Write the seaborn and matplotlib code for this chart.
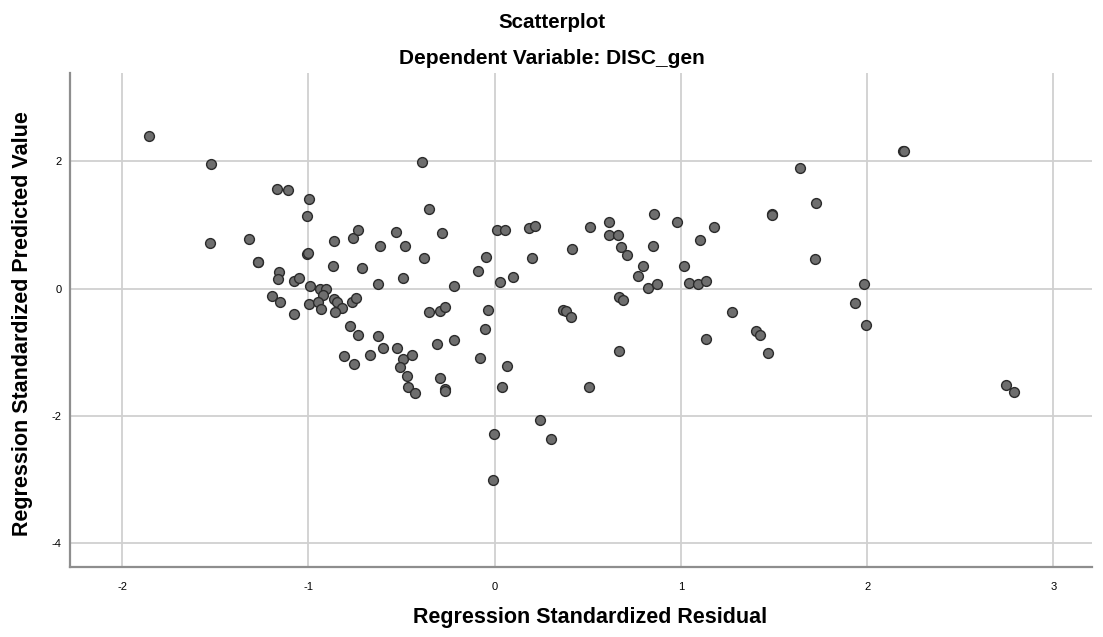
import numpy as np
import pandas as pd
import matplotlib
matplotlib.use("Agg")
import matplotlib.pyplot as plt
import seaborn as sns

# --- Data (standardized residual, standardized predicted) ---
resid = [
    -1.858, -1.523, -1.529, -1.166, -1.107, -0.997, -1.008, -1.319, -1.273, -1.268,
    -1.006, -1.002, -1.160, -1.162, -1.075, -1.053, -0.989, -0.940, -0.906, -0.919,
    -0.862, -0.869, -0.758, -0.736, -0.713, -0.616, -0.629, -0.530, -0.482, -0.493,
    -0.389, -0.355, -0.382, -0.283, -0.217, -0.089, -0.046, 0.015, 0.058, 0.026,
    -1.193, -1.151, -1.078, -0.999, -0.946, -0.931, -0.865, -0.844, -0.819, -0.856,
    -0.767, -0.743, -0.779, -0.736, -0.627, -0.600, -0.808, -0.756, -0.668, -0.525,
    -0.491, -0.444, -0.506, -0.470, -0.466, -0.428, -0.350, -0.291, -0.267, -0.309,
    -0.219, -0.296, -0.266, -0.264, -0.037, -0.051, -0.078, -0.001, -0.008,
    2.193, 2.198, 1.641, 1.726, 1.488, 1.490, 1.722, 1.981, 1.932, 1.276,
    1.179, 1.104, 0.977, 1.015, 1.041, 1.092, 1.136, 0.856, 0.848, 0.799,
    0.767, 0.825, 0.871, 0.514, 0.612, 0.616, 0.663, 0.676, 0.712, 0.417,
    0.665, 0.690, 0.187, 0.215, 0.198, 0.100, 0.368, 0.385, 0.410,
    0.064, 0.041, 0.243, 0.300, 0.506, 0.665, 1.134, 1.404, 1.425, 1.467,
    1.994, 2.743, 2.787,
]
predicted = [
    2.400, 1.956, 0.723, 1.572, 1.557, 1.405, 1.143, 0.777, 0.425, 0.420,
    0.546, 0.552, 0.263, 0.153, 0.116, 0.163, 0.042, -0.010, -0.010, -0.099,
    0.750, 0.362, 0.797, 0.928, 0.325, 0.676, 0.074, 0.887, 0.671, 0.168,
    1.997, 1.248, 0.483, 0.871, 0.047, 0.278, 0.498, 0.923, 0.923, 0.110,
    -0.110, -0.214, -0.393, -0.241, -0.214, -0.319, -0.167, -0.214, -0.299, -0.371,
    -0.214, -0.151, -0.591, -0.728, -0.739, -0.932, -1.063, -1.189, -1.053, -0.928,
    -1.105, -1.053, -1.236, -1.377, -1.550, -1.640, -0.377, -0.351, -0.283, -0.875,
    -0.817, -1.404, -1.580, -1.610, -0.330, -0.634, -1.095, -2.285, -3.008,
    2.165, 2.160, 1.903, 1.352, 1.180, 1.159, 0.472, 0.079, -0.225, -0.362,
    0.975, 0.761, 1.044, 0.357, 0.094, 0.069, 0.116, 1.170, 0.667, 0.357,
    0.200, 0.006, 0.069, 0.975, 1.049, 0.849, 0.844, 0.661, 0.535, 0.624,
    -0.130, -0.178, 0.954, 0.986, 0.478, 0.184, -0.335, -0.346, -0.440,
    -1.215, -1.546, -2.064, -2.368, -1.550, -0.975, -0.801, -0.670, -0.728, -1.016,
    -0.571, -1.519, -1.629,
]

x_ticks = [-2, -1, 0, 1, 2, 3]
y_ticks = [-4, -2, 0, 2]

df = pd.DataFrame({"resid": resid, "pred": predicted})

sns.set_style("white")
plt.rcParams["font.family"] = ["Liberation Sans", "DejaVu Sans"]
plt.rcParams["axes.unicode_minus"] = False
plt.rcParams["text.color"] = "black"
plt.rcParams["axes.labelcolor"] = "black"

fig = plt.figure(figsize=(11.03, 6.37), dpi=100)
ax = fig.add_axes([70 / 1103, 1 - 567 / 637, 1022 / 1103, 494 / 637])

sns.scatterplot(data=df, x="resid", y="pred", ax=ax, s=50,
                color="#6e6e6e", edgecolor="#2b2b2b", linewidth=1.0, zorder=3)

ax.set_xlim(-2.28, 3.207)
ax.set_ylim(-4.38, 3.39)
ax.set_xticks(x_ticks)
ax.set_yticks(y_ticks)
ax.grid(True, color="#d0d0d0", linewidth=1.3, zorder=0)
ax.set_axisbelow(True)

for side in ["top", "right"]:
    ax.spines[side].set_visible(False)
for side in ["left", "bottom"]:
    ax.spines[side].set_color("#8e8e8e")
    ax.spines[side].set_linewidth(1.6)

ax.tick_params(axis="both", length=0, labelsize=8, colors="black")
ax.tick_params(axis="x", pad=11)
ax.tick_params(axis="y", pad=6)

ax.set_xlabel("Regression Standardized Residual", fontsize=15.5, fontweight="bold")
ax.xaxis.set_label_coords(0.509, (567 - 623.3) / 494)
ax.xaxis.label.set_va("baseline")

ax.set_ylabel("Regression Standardized Predicted Value", fontsize=15.5, fontweight="bold")
ax.yaxis.set_label_coords((22.5 - 70) / 1022, (567 - 323.5) / 494)
ax.yaxis.label.set_va("center")

fig.text(0.5, 1 - 28.3 / 637, "Scatterplot", ha="center", va="baseline",
         fontsize=14.8, fontweight="bold")
fig.text(0.5, 1 - 64.3 / 637, "Dependent Variable: DISC_gen", ha="center", va="baseline",
         fontsize=15, fontweight="bold")

fig.savefig("out.png", dpi=100)
